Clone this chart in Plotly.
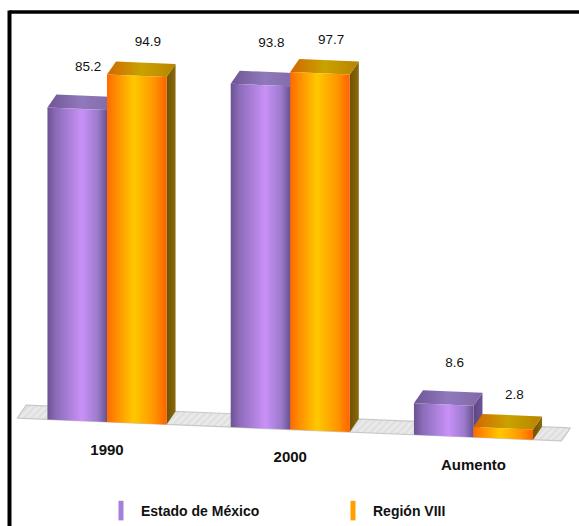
import plotly.graph_objects as go

# ---- data ---------------------------------------------------------------
categories = ["1990", "2000", "Aumento"]
estado_mexico = [85.2, 93.8, 8.6]
region_viii = [94.9, 97.7, 2.8]
series_names = ["Estado de México", "Región VIII"]

# ---- pseudo-3D geometry (axis units) ------------------------------------
BAR_W = 0.325        # width of one bar, in category units
SHEAR = 2.09         # baseline drop per category unit (value units)
DX, DY = 0.049, 3.55  # depth vector of the extruded bars
FLOOR_L, FLOOR_R = -0.49, 2.48

X_RANGE = [-0.5839, 2.5757]
Y_RANGE = [-28.44, 115.27]

FONT = "Liberation Sans, Arial, sans-serif"

styles = [
    dict(
        front=[[0, "#6c5392"], [0.15, "#8c6cba"], [0.58, "#c991f8"], [0.85, "#9a7acb"], [1, "#6a5190"]],
        top=[[0, "#6f5598"], [0.5, "#9079bb"], [1, "#8068a8"]],
        side=[[0, "#5e4684"], [1, "#6e5496"]],
        key="#a57fd8",
        label_up=11.2,
    ),
    dict(
        front=[[0, "#ff6a00"], [0.15, "#ff8c00"], [0.45, "#ffc800"], [0.8, "#ff9400"], [1, "#ff6200"]],
        top=[[0, "#d06800"], [0.5, "#c9a200"], [1, "#b88400"]],
        side=[[0, "#6e5200"], [1, "#8a6a0c"]],
        key="#ffa000",
        label_up=9.0,
    ),
]


def base(x):
    return -SHEAR * x


def poly(xs, ys, scale):
    return go.Scatter(
        x=xs + [xs[0]], y=ys + [ys[0]],
        mode="lines", fill="toself",
        line=dict(width=0, color="rgba(0,0,0,0)"),
        fillgradient=dict(type="horizontal", colorscale=scale),
        hoverinfo="skip", showlegend=False,
    )


fig = go.Figure()

# floor slab
fl_x = [FLOOR_L, FLOOR_R, FLOOR_R + DX, FLOOR_L + DX]
fl_y = [base(FLOOR_L), base(FLOOR_R), base(FLOOR_R) + DY, base(FLOOR_L) + DY]
fig.add_trace(go.Scatter(
    x=fl_x + [fl_x[0]], y=fl_y + [fl_y[0]], mode="lines", fill="toself",
    fillcolor="#e8e8e8",
    fillpattern=dict(shape="/", fgcolor="#f8f8f8", bgcolor="#e0e0e0", size=5, solidity=0.4),
    line=dict(color="#c8c8c8", width=1.2),
    hoverinfo="skip", showlegend=False,
))

# bars, drawn left to right so each front face hides the previous side face
label_x, label_y, label_t = [], [], []
for gi, cat in enumerate(categories):
    for si, vals in enumerate([estado_mexico, region_viii]):
        v = vals[gi]
        st = styles[si]
        x0 = gi - BAR_W + si * BAR_W
        x1 = x0 + BAR_W
        b0, b1 = base(x0), base(x1)
        # side face
        fig.add_trace(poly([x1, x1 + DX, x1 + DX, x1],
                           [b1, b1 + DY, b1 + DY + v, b1 + v], st["side"]))
        # top face
        fig.add_trace(poly([x0, x1, x1 + DX, x0 + DX],
                           [b0 + v, b1 + v, b1 + v + DY, b0 + v + DY], st["top"]))
        # front face
        fig.add_trace(poly([x0, x1, x1, x0],
                           [b0, b1, b1 + v, b0 + v], st["front"]))
        xc = (x0 + x1) / 2
        label_x.append(xc + 0.06)
        label_y.append(base(xc) + v + st["label_up"])
        label_t.append(f"{v:.1f}")

# value labels
fig.add_trace(go.Scatter(
    x=label_x, y=label_y, text=label_t, mode="text",
    textfont=dict(family=FONT, size=13.5, color="#111111"),
    hoverinfo="skip", showlegend=False,
))

# category labels under the floor
cat_x = list(range(len(categories)))
fig.add_trace(go.Scatter(
    x=cat_x, y=[base(x) - 7.9 for x in cat_x], text=categories, mode="text",
    textfont=dict(family=FONT, size=15, color="#111111", weight="bold"),
    hoverinfo="skip", showlegend=False,
))

# legend keys
for si, name in enumerate(series_names):
    fig.add_trace(go.Scatter(
        x=[None], y=[None], mode="markers", name=name,
        marker=dict(symbol="line-ns", size=14,
                    line=dict(width=5, color=styles[si]["key"]),
                    color=styles[si]["key"]),
    ))

# chart frame (top and left rules)
fig.add_shape(type="line", xref="paper", yref="paper",
              x0=9.5 / 579, x1=1.0, y0=1 - 12 / 526, y1=1 - 12 / 526,
              line=dict(color="black", width=3.5))
fig.add_shape(type="line", xref="paper", yref="paper",
              x0=9.5 / 579, x1=9.5 / 579, y0=0, y1=1 - 10.5 / 526,
              line=dict(color="black", width=4))

fig.update_layout(
    width=579, height=526,
    margin=dict(l=0, r=0, t=0, b=0, autoexpand=False),
    paper_bgcolor="white", plot_bgcolor="white",
    xaxis=dict(range=X_RANGE, visible=False, fixedrange=True),
    yaxis=dict(range=Y_RANGE, visible=False, fixedrange=True),
    showlegend=True,
    legend=dict(
        orientation="h", x=101 / 579, y=1 - 511 / 526, xanchor="left", yanchor="middle",
        entrywidth=187, entrywidthmode="pixels",
        font=dict(family=FONT, size=14, color="#111111", weight="bold"),
        bgcolor="rgba(0,0,0,0)", itemclick=False, itemdoubleclick=False,
    ),
)

fig.write_html("out.html")
